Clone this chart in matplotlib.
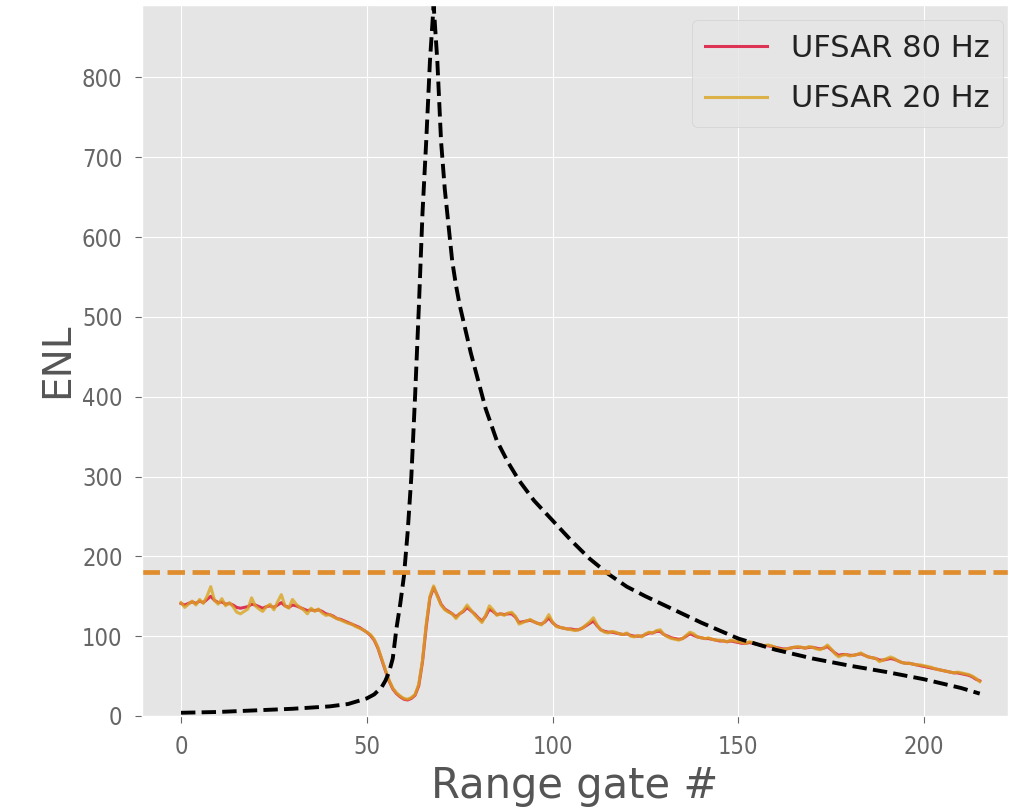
import numpy as np
import matplotlib
matplotlib.use("Agg")
import matplotlib.pyplot as plt

plt.style.use("ggplot")

# ---- data ----
enl_20hz = [
    142, 136, 140, 144, 139, 146, 141, 150, 162, 145,
    140, 147, 138, 142, 137, 130, 128, 131, 134, 148,
    138, 134, 131, 137, 140, 133, 143, 152, 138, 135,
    146, 140, 136, 133, 128, 135, 131, 134, 129, 126,
    127, 124, 122, 120, 118, 116, 115, 112, 110, 108,
    105, 102, 96, 86, 72, 58, 45, 35, 29, 25,
    22, 21, 23, 27, 40, 70, 115, 150, 163, 150,
    139, 133, 130, 128, 122, 128, 132, 139, 133, 127,
    122, 117, 126, 138, 133, 126, 128, 126, 129, 130,
    125, 115, 117, 119, 121, 118, 116, 114, 119, 127,
    118, 112, 111, 110, 109, 108, 107, 108, 110, 114,
    118, 123, 114, 108, 105, 104, 106, 105, 103, 102,
    104, 100, 99, 101, 99, 103, 105, 104, 107, 108,
    102, 99, 97, 96, 95, 97, 101, 105, 103, 99,
    98, 97, 98, 96, 95, 95, 94, 93, 95, 94,
    93, 92, 91, 93, 92, 90, 89, 88, 89, 88,
    86, 84, 83, 84, 85, 86, 87, 86, 85, 87,
    86, 84, 83, 85, 89, 84, 78, 74, 76, 77,
    75, 76, 77, 79, 76, 74, 73, 72, 68, 70,
    72, 74, 72, 69, 67, 66, 66, 65, 64, 64,
    63, 62, 61, 59, 58, 57, 56, 55, 54, 55,
    54, 53, 52, 50, 47, 43,
]
enl_80hz = [
    141, 139, 141, 143, 141, 144, 142, 146, 150, 145,
    142, 143, 140, 141, 139, 136, 135, 136, 137, 140,
    139, 137, 135, 137, 138, 136, 139, 142, 138, 136,
    139, 138, 136, 134, 132, 133, 132, 133, 131, 128,
    127, 125, 122, 121, 119, 117, 115, 113, 111, 108,
    105, 101, 95, 85, 71, 57, 44, 34, 28, 24,
    21, 20, 22, 26, 38, 68, 112, 148, 161, 151,
    140, 134, 131, 128, 124, 128, 131, 136, 132, 128,
    123, 119, 125, 134, 131, 127, 128, 127, 128, 128,
    124, 117, 118, 119, 120, 118, 116, 115, 118, 123,
    117, 113, 111, 110, 109, 109, 108, 108, 110, 113,
    116, 119, 113, 108, 106, 105, 105, 104, 103, 102,
    103, 101, 100, 100, 100, 102, 104, 104, 106, 106,
    102, 100, 98, 97, 96, 97, 100, 103, 101, 99,
    98, 97, 97, 96, 95, 94, 94, 93, 94, 93,
    92, 91, 91, 92, 91, 90, 89, 88, 88, 87,
    86, 85, 84, 84, 85, 86, 86, 86, 85, 86,
    86, 85, 84, 85, 87, 83, 79, 76, 77, 77,
    76, 76, 77, 78, 76, 74, 73, 72, 70, 70,
    71, 72, 71, 69, 67, 66, 66, 65, 64, 63,
    62, 61, 60, 59, 58, 57, 56, 55, 54, 54,
    53, 52, 51, 49, 46, 44,
]
gates = np.arange(len(enl_20hz))

theory_gate = [0, 10, 20, 30, 40, 45, 50, 52, 54, 55, 56, 57, 58, 59, 60, 61, 62, 63,
               64, 65, 66, 67, 68, 69, 70, 71, 72, 73, 74, 75, 76, 78, 80, 82, 85,
               88, 91, 95, 100, 105, 110, 115, 120, 125, 130, 140, 150, 160, 170,
               180, 190, 200, 210, 215]
theory_enl = [4, 5, 7, 9, 12, 15, 22, 27, 36, 44, 55, 72, 110, 140, 175, 230, 300, 400,
              510, 630, 720, 820, 891, 820, 720, 660, 615, 570, 540, 515, 495, 455, 420,
              385, 345, 318, 295, 270, 245, 220, 197, 178, 162, 150, 139, 117, 97, 83,
              72, 63, 55, 46, 35, 28]

threshold = 180
series_labels = ["UFSAR 80 Hz", "UFSAR 20 Hz"]
x_ticks = [0, 50, 100, 150, 200]
y_ticks = [0, 100, 200, 300, 400, 500, 600, 700, 800]

# ---- plot ----
fig = plt.figure(figsize=(10.10, 8.09), dpi=100)
ax = fig.add_axes([0.1406, 0.115, 0.8574, 0.879])

ax.plot(gates, enl_80hz, color="crimson", alpha=0.85, lw=2.2, label=series_labels[0])
ax.plot(gates, enl_20hz, color="goldenrod", alpha=0.8, lw=2.2, label=series_labels[1])
ax.plot(theory_gate, theory_enl, color="black", ls="--", lw=2.8)
ax.axhline(threshold, color="#E08D2E", ls="--", lw=3.4)

ax.set_xlim(-10.5, 222.6)
ax.set_ylim(0, 891)
ax.set_xticks(x_ticks)
ax.set_yticks(y_ticks)
ax.tick_params(colors="#666666", length=5, pad=9)
for lab in ax.get_xticklabels() + ax.get_yticklabels():
    lab.set_fontsize(17)
    lab.set_fontstretch("condensed")
ax.set_xlabel("Range gate #", fontsize=30, color="#555555", labelpad=4)
ax.set_ylabel("ENL", fontsize=28, color="#555555")
leg = ax.legend(loc="upper right", bbox_to_anchor=(1.0, 0.985), fontsize=22,
                borderaxespad=0.15, labelspacing=0.7, borderpad=0.45)
for t in leg.get_texts():
    t.set_color("#222222")

fig.savefig("out.png", dpi=100)
